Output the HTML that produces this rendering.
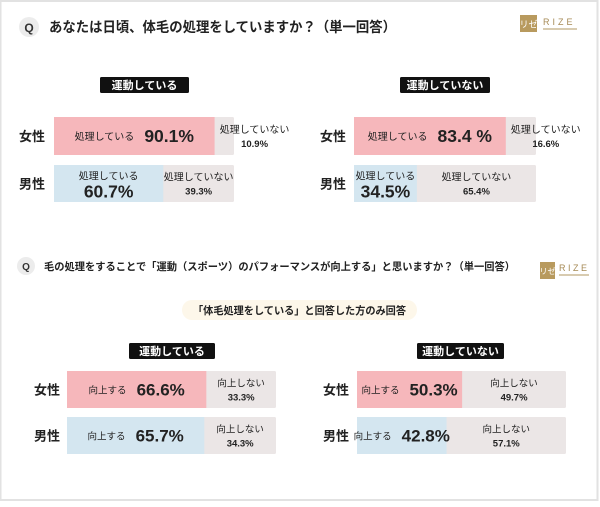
<!DOCTYPE html>
<html><head><meta charset="utf-8">
<style>
html,body{margin:0;padding:0;background:#fff;}
body{width:600px;height:502px;overflow:hidden;font-family:"Liberation Sans","Noto Sans CJK JP",sans-serif;}
svg text{font-family:"Liberation Sans","Noto Sans CJK JP",sans-serif;}
</style></head>
<body>
<svg id="chart" width="600" height="502" viewBox="0 0 600 502" xmlns="http://www.w3.org/2000/svg">
  <rect x="0" y="0" width="600" height="502" fill="#fff"/>
  <rect x="0.5" y="1" width="597" height="499" fill="none" stroke="#e2e2e2" stroke-width="2"/>
  <circle cx="29" cy="27" r="10" fill="#ececec"/>
  <text x="29" y="32" font-size="12" font-weight="bold" fill="#333" text-anchor="middle">Q</text>
  <text x="49" y="32" font-size="14" font-weight="bold" fill="#222" textLength="347" lengthAdjust="spacingAndGlyphs">あなたは日頃、体毛の処理をしていますか？（単一回答）</text>
  <g>
    <rect x="520" y="15" width="17" height="17" fill="#b89a5e"/>
    <text x="528.5" y="27.5" font-size="9" fill="#fff" text-anchor="middle">リゼ</text>
    <text x="543" y="25" font-size="9" fill="#a68a55" letter-spacing="3">RIZE</text>
    <rect x="543" y="28" width="34" height="2" fill="#d8cbb0"/>
  </g>
  <circle cx="26" cy="266" r="9" fill="#ececec"/>
  <text x="26" y="270" font-size="10" font-weight="bold" fill="#333" text-anchor="middle">Q</text>
  <text x="44" y="270" font-size="10.5" font-weight="bold" fill="#222" textLength="471" lengthAdjust="spacingAndGlyphs">毛の処理をすることで「運動（スポーツ）のパフォーマンスが向上する」と思いますか？（単一回答）</text>
  <g>
    <rect x="540" y="262" width="15" height="17" fill="#b89a5e"/>
    <text x="547.5" y="274" font-size="8" fill="#fff" text-anchor="middle">リゼ</text>
    <text x="559" y="271" font-size="9" fill="#a68a55" letter-spacing="2.5">RIZE</text>
    <rect x="559" y="274" width="30" height="2" fill="#d8cbb0"/>
  </g>
  <rect x="182" y="300" width="235" height="20" rx="10" fill="#fdf7ea"/>
  <text x="299.5" y="314" font-size="10.5" font-weight="bold" fill="#222" text-anchor="middle" textLength="213" lengthAdjust="spacingAndGlyphs">「体毛処理をしている」と回答した方のみ回答</text>
  <g id="marks"></g>
</svg>
<script>
const groups = ["運動している","運動していない"];
const rows = ["女性","男性"];
const q1Yes = [[90.1,60.7],[83.4,34.5]];
const q1No = [[10.9,39.3],[16.6,65.4]];
const q2Yes = [[66.6,65.7],[50.3,42.8]];
const q2No = [[33.3,34.3],[49.7,57.1]];
const q1Labels = ["処理している","処理していない"];
const q2Labels = ["向上する","向上しない"];

const NS="http://www.w3.org/2000/svg";
const g=document.getElementById('marks');
function el(t,a,txt){const e=document.createElementNS(NS,t);for(const k in a)e.setAttribute(k,a[k]);if(txt!==undefined)e.textContent=txt;g.appendChild(e);return e;}

const panels=[
 {yes:q1Yes,no:q1No,lab:q1Labels,x0:[54,354],w:[180,182],tagY:77,tagX:[100,400],tagW:[89,90],rowY:[117,165],rowH:[38,37],labX:[19,320],q:1,vfs:17.5,lfs:10,nfs:10,nvfs:9.5},
 {yes:q2Yes,no:q2No,lab:q2Labels,x0:[67,357],w:[209,209],tagY:343,tagX:[129,417],tagW:[86,87],rowY:[371,417],rowH:[37,37],labX:[34,323],q:2,vfs:17,lfs:9.5,nfs:9.5,nvfs:9.5}
];
const fill=["#f6b7bb","#d4e6f0"];
panels.forEach((p)=>{
 groups.forEach((gname,gi)=>{
  const tag=el('rect',{x:p.tagX[gi],y:p.tagY,width:p.tagW[gi],height:16,rx:1.5,fill:'#111'});
  
  
  const tt=el('text',{x:p.tagX[gi]+p.tagW[gi]/2,y:p.tagY+12,'font-size':11,'font-weight':'bold',fill:'#fff','text-anchor':'middle'},gname);
  
  
  rows.forEach((r,ri)=>{
   const yv=p.yes[gi][ri], nv=p.no[gi][ri];
   const sx=v=>p.w[gi]*v/(yv+nv);
   const x0=p.x0[gi], y=p.rowY[ri], h=p.rowH[ri];
   const bg=el('rect',{x:x0,y:y,width:sx(yv+nv),height:h,rx:1.5,fill:'#ebe6e6'});
   
   
   const wy=sx(yv);
   const b=el('rect',{x:x0,y:y,width:wy,height:h,fill:fill[ri]});
   
   
   const rl=el('text',{x:p.labX[gi],y:y+h/2+5,'font-size':13,'font-weight':'bold',fill:'#222'},r);
   
   
   const cy=y+h/2;
   const cx=x0+wy/2;
   const valTxt=yv.toFixed(1)+(p.q===1&&gi===1&&ri===0?' %':'%');
   if(p.q===1 && ri===1){
     const a=el('text',{x:cx,y:cy-4,'font-size':p.lfs,fill:'#222','text-anchor':'middle'},p.lab[0]);
     
     
     const v=el('text',{x:cx,y:cy+14,'font-size':p.vfs,'font-weight':'bold',fill:'#222','text-anchor':'middle'},valTxt);
     
     
   } else {
     const a=el('text',{x:0,y:cy+4,'font-size':p.lfs,fill:'#222'},p.lab[0]);
     
     
     const v=el('text',{x:0,y:cy+6,'font-size':p.vfs,'font-weight':'bold',fill:'#222'},valTxt);
     
     
     const gap=10;
     const lw=a.getComputedTextLength(), vw=v.getComputedTextLength();
     const start=cx-(lw+gap+vw)/2;
     a.setAttribute('x',start);
     v.setAttribute('x',start+lw+gap);
   }
   const gw=sx(nv);
   let nx=x0+wy+gw/2;
   if(gw<60) nx=x0+wy+40;
   const nl=el('text',{x:nx,y:cy-3,'font-size':p.nfs,fill:'#222','text-anchor':'middle'},p.lab[1]);
   
   
   const nvt=el('text',{x:nx,y:cy+11,'font-size':p.nvfs,'font-weight':'bold',fill:'#222','text-anchor':'middle'},nv.toFixed(1)+'%');
   
   
  });
 });
});
</script>
</body></html>
